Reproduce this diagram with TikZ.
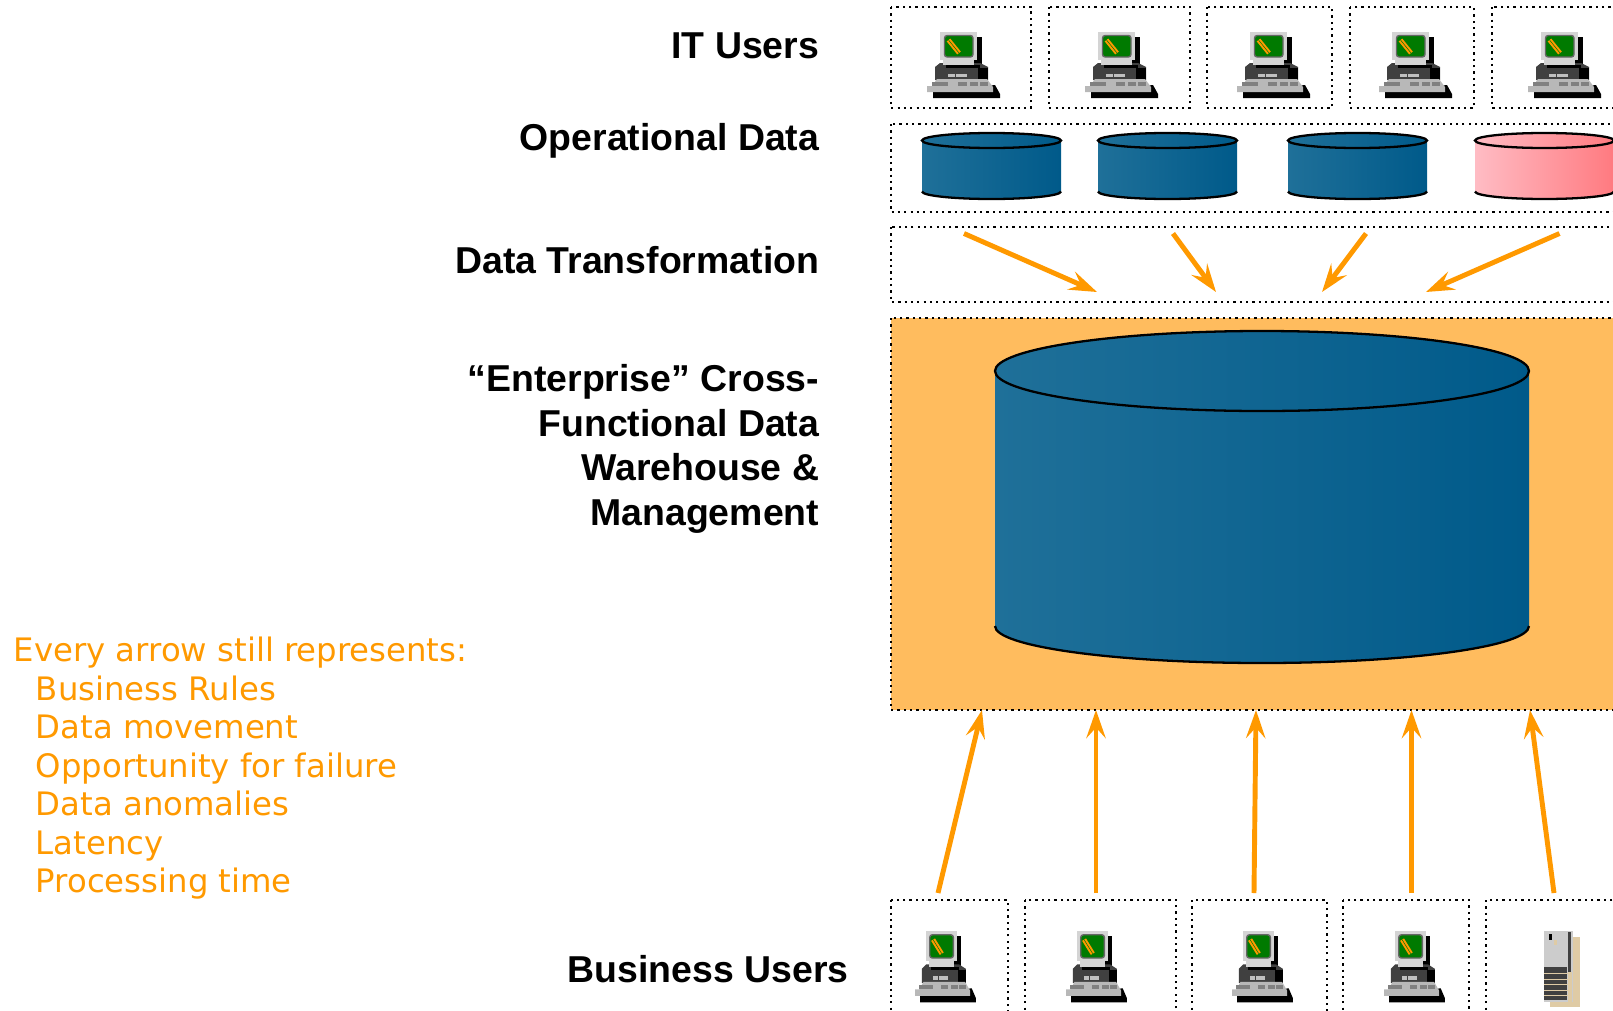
\documentclass[tikz,border=0pt]{standalone}
\usepackage{fontspec}
\setmainfont{Liberation Sans}
\newfontfamily\noteface{DejaVu Sans}
\usepackage{xcolor}
\usetikzlibrary{arrows.meta,positioning}

\definecolor{flowor}{HTML}{FF9900}
\definecolor{sandfill}{HTML}{FFBC5E}
\definecolor{cylleft}{HTML}{1F7099}
\definecolor{cylright}{HTML}{005A8A}
\definecolor{pinkleft}{HTML}{FFBCC4}
\definecolor{pinkright}{HTML}{FF7A80}
\definecolor{scrgreen}{HTML}{007A00}
\definecolor{casetan}{HTML}{DFCBA5}

\tikzset{
  dotbox/.style={draw=black,line width=1.6pt,dash pattern=on 1.3pt off 2.3pt},
  flowarrow/.style={draw=flowor,line width=2.8pt,-{Stealth[length=16pt,width=11pt,inset=6pt]}},
  tierlabel/.style={anchor=base east,align=right,inner sep=0pt,font=\fontsize{21.3}{25.3}\selectfont\bfseries},
  computer/.pic={
    % shadow
    \fill[black] (37,5) rectangle (42,34);
    \fill[black] (34,27) rectangle (40,36);
    \fill[black] (-7,60) -- (55,53) -- (60,62) -- (60,66) -- (-7,66) -- cycle;
    % desktop unit
    \fill[black!75] (-5,35) -- (0,31) -- (40,31) -- (48,35) -- (48,48) -- (-5,48) -- cycle;
    \fill[black] (38,36) rectangle (48,48);
    \fill[black] (6,33) rectangle (40,36);
    \fill[black!25] (8.3,42) rectangle (15,45);
    \fill[black!25] (16,42) rectangle (27,45);
    % keyboard
    \fill[black!28] (-8,54) -- (-3,47) -- (47,47) -- (53,55) -- (53,60) -- (-13,60) -- (-13,54) -- cycle;
    \foreach \kx/\kw in {-8/16,18/9,30/8,40/8}
      \fill[black!50] (\kx,50) rectangle ++(\kw,4);
    % monitor
    \fill[black!17] (0,0) rectangle (37,28);
    \fill[black!17] (3,28) rectangle (34,33);
    \fill[scrgreen,draw=black!60,line width=.8pt,rounded corners=1.5pt] (4.5,3.5) rectangle (33,25);
    \draw[flowor,line width=2.6pt] (8.5,8) -- (19,21);
    \draw[scrgreen,line width=.3pt] (8.5,8) -- (19,21);
  },
  tower/.pic={
    \fill[casetan] (6,6) rectangle (36,76);
    \fill[black!20] (0,0) rectangle (29,71);
    \fill[black!75] (24,1) rectangle (27,41);
    \fill[black!75] (0,36) rectangle (23,69);
    \fill[black] (5,3) rectangle (8,9);
    \fill[casetan] (10,9) rectangle (13,14);
    \fill[casetan] (24,41) rectangle (28,71);
    \foreach \ly in {42,48,53,59,64}
      \draw[casetan,line width=.5pt] (0,\ly) -- (24,\ly);
  },
  x=0.02cm,y=-0.02cm
}

\newcommand{\datacyl}[8]{%
  \shade[left color=#1,right color=#2]
    (#3,#5) -- (#3,#6) arc[start angle=180,end angle=0,x radius=#4/2,y radius=#8]
    -- ({#3+#4},#5) arc[start angle=0,end angle=-180,x radius=#4/2,y radius=#7] -- cycle;
  \draw[black,line width=1.3pt] (#3,#6) arc[start angle=180,end angle=0,x radius=#4/2,y radius=#8];
  \draw[black,line width=1.3pt] ({#3+#4/2},#5) ellipse[x radius=#4/2,y radius=#7];
}

\begin{document}
\begin{tikzpicture}
\useasboundingbox (0,0) rectangle (1613,1011);
\clip (0,0) rectangle (1613,1011);

% IT users row
\foreach \xa/\xb in {891/1031,1049/1190,1207/1332,1350/1474,1492/1640}
  \draw[dotbox] (\xa,7) rectangle (\xb,108);
\foreach \x in {940,1098,1250,1392,1541}
  \pic at (\x,32) {computer};

% operational data
\draw[dotbox] (891,124) rectangle (1640,212);
\foreach \x in {922,1098,1288} {
  \datacyl{cylleft}{cylright}{\x}{139}{140.5}{191.5}{7.5}{7.5}
}
\datacyl{pinkleft}{pinkright}{1475}{139}{140.5}{191.5}{7.5}{7.5}

% data transformation
\draw[dotbox] (891,227) rectangle (1640,302);
\foreach \i/\sx/\ex in {1/964/1097,2/1173/1216,3/1366/1322,4/1559.5/1426} {
  \coordinate (tfrom\i) at (\sx,233.5);
  \coordinate (tto\i) at (\ex,292);
  \draw[flowarrow] (tfrom\i) -- (tto\i);
}

% warehouse
\draw[dotbox,fill=sandfill] (891,318) rectangle (1640,710);
\datacyl{cylleft}{cylright}{995}{534}{371}{626}{40}{37}

% business users row
\foreach \i/\sx/\ex in {1/938/982,2/1096/1096,3/1254/1256,4/1411.5/1411.5,5/1554/1530} {
  \coordinate (bfrom\i) at (\sx,893);
  \coordinate (bto\i) at (\ex,710);
  \draw[flowarrow] (bfrom\i) -- (bto\i);
}
\foreach \xa/\xb in {891/1008,1025/1176,1192/1327,1343/1469,1486/1640}
  \draw[dotbox] (\xa,900) rectangle (\xb,1040);
\foreach \x in {926,1077,1243,1395}
  \pic[xscale=.83,yscale=1.08] at (\x,931) {computer};
\pic at (1544,931) {tower};

% labels
\node[tierlabel] (itusers) at (819.5,58.5) {IT Users};
\node[tierlabel] (opdata) at (819.5,150) {Operational Data};
\node[tierlabel] (transform) at (819.5,273.5) {Data Transformation};
\node[tierlabel,anchor=north east] (warehouse) at (819.5,364.5)
  {“Enterprise” Cross-\\Functional Data\\Warehouse \&\\Management};
\node[tierlabel] (bizusers) at (849,982) {Business Users};

\node[anchor=north west,align=left,inner sep=0pt,text=flowor,
      font=\noteface\fontsize{18.4}{21.9}\selectfont] (arrownote) at (13.4,637)
  {Every arrow still represents:\\
   \hspace*{12.6pt}Business Rules\\
   \hspace*{12.6pt}Data movement\\
   \hspace*{12.6pt}Opportunity for failure\\
   \hspace*{12.6pt}Data anomalies\\
   \hspace*{12.6pt}Latency\\
   \hspace*{12.6pt}Processing time};
\end{tikzpicture}
\end{document}
